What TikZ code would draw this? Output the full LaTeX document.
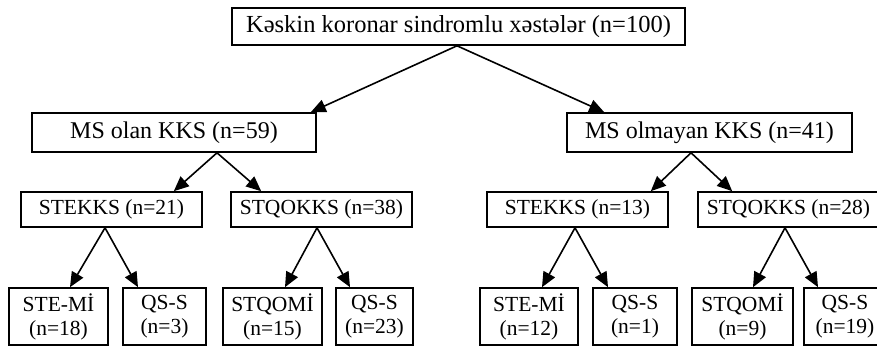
\documentclass[tikz,border=0pt]{standalone}
\usepackage{fontspec}
\setmainfont{Liberation Serif}
\usetikzlibrary{arrows.meta}
\begin{document}
\begin{tikzpicture}[x=1pt,y=-1pt,
  box/.style={draw,line width=1.6pt,inner sep=0pt,align=center,fill=white},
  lvA/.style={box,font=\fontsize{24.5}{28}\selectfont},
  lvB/.style={box,font=\fontsize{24}{28}\selectfont,minimum height=39pt},
  lvC/.style={box,font=\fontsize{21.5}{24}\selectfont,minimum width=181pt,minimum height=35pt},
  leaf/.style={box,font=\fontsize{21.5}{24}\selectfont,minimum height=57pt},
  arr/.style={line width=1.6pt,-{Triangle[length=15pt,width=13pt]}}]
\useasboundingbox (0,0) rectangle (877,347);
\node[lvA,minimum width=453pt,minimum height=37pt] (top) at (458.5,26.5) {Kəskin koronar sindromlu xəstələr (n=100)};
\node[lvB,minimum width=284pt] (ms1) at (174,132.5) {MS olan KKS (n=59)};
\node[lvB,minimum width=285pt] (ms2) at (709.5,132.5) {MS olmayan KKS (n=41)};
\node[lvC] (a1) at (111.5,209.5) {STEKKS (n=21)};
\node[lvC] (a2) at (321.5,209.5) {STQOKKS (n=38)};
\node[lvC] (b1) at (577.5,209.5) {STEKKS (n=13)};
\node[lvC] (b2) at (788.5,209.5) {STQOKKS (n=28)};
\node[leaf,minimum width=99pt] (a1L) at (58.5,316.5) {STE-Mİ\\(n=18)};
\node[leaf,minimum width=83pt] (a1R) at (164.5,316.5) {QS-S\\(n=3)};
\node[leaf,minimum width=99pt] (a2L) at (272.5,316.5) {STQOMİ\\(n=15)};
\node[leaf,minimum width=77pt] (a2R) at (374.5,316.5) {QS-S\\(n=23)};
\node[leaf,minimum width=98pt] (b1L) at (529,316.5) {STE-Mİ\\(n=12)};
\node[leaf,minimum width=84pt] (b1R) at (635,316.5) {QS-S\\(n=1)};
\node[leaf,minimum width=101pt] (b2L) at (742.5,316.5) {STQOMİ\\(n=9)};
\node[leaf,minimum width=82pt] (b2R) at (845,316.5) {QS-S\\(n=19)};
\draw[arr] ([xshift=-1.5pt]top.south) -- ([xshift=-6pt]ms1.north east);
\draw[arr] ([xshift=-1.5pt]top.south) -- ([xshift=38pt]ms2.north west);
\draw[arr] ([xshift=43pt]ms1.south) -- ([xshift=-29pt]a1.north east);
\draw[arr] ([xshift=43pt]ms1.south) -- ([xshift=31pt]a2.north west);
\draw[arr] ([xshift=-18.5pt]ms2.south) -- ([xshift=-18pt]b1.north east);
\draw[arr] ([xshift=-18.5pt]ms2.south) -- ([xshift=35pt]b2.north west);
\draw[arr] ([xshift=-6.5pt]a1.south) -- ([xshift=11.5pt]a1L.north);
\draw[arr] ([xshift=-6.5pt]a1.south) -- ([xshift=-26.5pt]a1R.north);
\draw[arr] ([xshift=-4.5pt]a2.south) -- ([xshift=12.5pt]a2L.north);
\draw[arr] ([xshift=-4.5pt]a2.south) -- ([xshift=-24.5pt]a2R.north);
\draw[arr] ([xshift=-2.5pt]b1.south) -- ([xshift=13pt]b1L.north);
\draw[arr] ([xshift=-2.5pt]b1.south) -- ([xshift=-27pt]b1R.north);
\draw[arr] ([xshift=-3.5pt]b2.south) -- ([xshift=10.5pt]b2L.north);
\draw[arr] ([xshift=-3.5pt]b2.south) -- ([xshift=-27pt]b2R.north);
\end{tikzpicture}
\end{document}
